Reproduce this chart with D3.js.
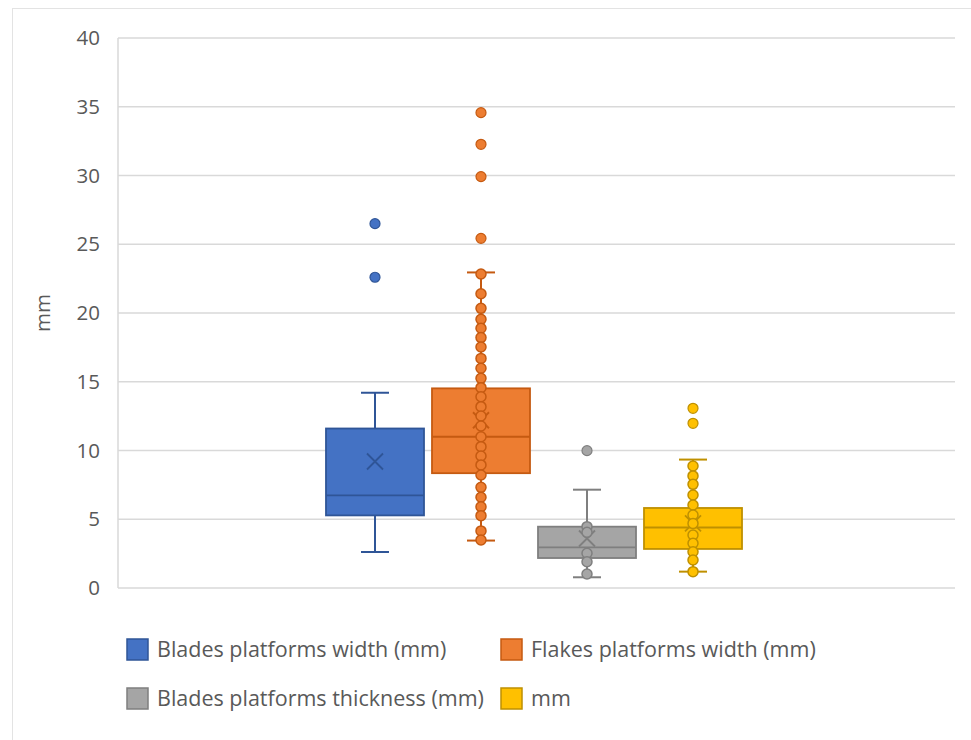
<!DOCTYPE html>
<html>
<head>
<meta charset="utf-8">
<script src="https://cdn.jsdelivr.net/npm/d3@7"></script>
<style>
  html, body { margin: 0; padding: 0; background: #fff; }
  svg { display: block; font-family: "Open Sans", "Noto Sans", sans-serif; }
</style>
</head>
<body>
<svg id="chart" width="971" height="740"></svg>
<script>
// ---- data ----
const seriesNames = [
  "Blades platforms width (mm)",
  "Flakes platforms width (mm)",
  "Blades platforms thickness (mm)",
  "mm"
];
const whiskerLow  = [2.62, 3.45, 0.78, 1.19];
const q1          = [5.28, 8.35, 2.18, 2.84];
const median      = [6.74, 11.0, 2.95, 4.40];
const q3          = [11.6, 14.52, 4.46, 5.82];
const whiskerHigh = [14.2, 22.95, 7.15, 9.34];
const means       = [9.2, 12.2, 3.6, 4.7];
const outliers = [
  [26.5, 22.6],
  [34.57, 32.27, 29.92, 25.43],
  [9.99],
  [13.07, 11.98]
];
const innerPoints = [
  [],
  [22.84, 21.4, 20.34, 19.54, 18.89, 18.21, 17.53, 16.7, 15.98, 15.25, 14.57, 13.91,
   13.19, 12.51, 11.78, 11.0, 10.28, 9.6, 8.95, 8.22, 7.32, 6.6, 5.91, 5.26, 4.15, 3.49],
  [4.46, 4.05, 2.52, 1.91, 1.02],
  [8.87, 8.15, 7.54, 6.76, 6.04, 5.31, 4.7, 3.85, 3.25, 2.64, 2.04, 1.19]
];
const yTicks = [0, 5, 10, 15, 20, 25, 30, 35, 40];
const yTitle = "mm";

// ---- styles ----
const fills   = ["#4472C4", "#ED7D31", "#A5A5A5", "#FFC000"];
const strokes = ["#2F5597", "#C55A11", "#7F7F7F", "#BF9000"];

const svg = d3.select("#chart");
const plot = { left: 118, right: 955, top: 38, bottom: 588 };

// outer frame
svg.append("rect").attr("x", 12.5).attr("y", 8.5).attr("width", 990).attr("height", 800)
  .attr("fill", "#fff").attr("stroke", "#E3E3E3").attr("stroke-width", 1);

const y = d3.scaleLinear().domain([0, 40]).range([plot.bottom, plot.top]);
const x = d3.scaleBand().domain(seriesNames).range([322, 746])
  .paddingInner(0.0755).paddingOuter(0.0377);

// gridlines
svg.append("g").selectAll("line").data(yTicks).join("line")
  .attr("x1", plot.left).attr("x2", plot.right)
  .attr("y1", d => y(d)).attr("y2", d => y(d))
  .attr("stroke", "#D9D9D9").attr("stroke-width", 1.5);

// left axis line
svg.append("line").attr("x1", plot.left).attr("x2", plot.left)
  .attr("y1", plot.top).attr("y2", plot.bottom)
  .attr("stroke", "#D9D9D9").attr("stroke-width", 1.5);

// y axis
const yAxis = d3.axisLeft(y).tickValues(yTicks).tickSize(0).tickPadding(18);
const gy = svg.append("g").attr("transform", `translate(${plot.left},0)`).call(yAxis);
gy.select(".domain").remove();
gy.selectAll("text").attr("fill", "#595959").attr("font-size", 20.5)
  .attr("font-family", "'Open Sans', sans-serif");

// y title
svg.append("text").attr("transform", `translate(50,${(plot.top + plot.bottom) / 2}) rotate(-90)`)
  .attr("text-anchor", "middle").attr("fill", "#595959").attr("font-size", 20.5)
  .text(yTitle);

// boxes
const capW = 28;
seriesNames.forEach((name, i) => {
  const g = svg.append("g");
  const x0 = x(name), bw = x.bandwidth(), cx = x0 + bw / 2;
  const st = strokes[i], fl = fills[i];
  // whiskers
  g.append("line").attr("x1", cx).attr("x2", cx).attr("y1", y(q3[i])).attr("y2", y(whiskerHigh[i]))
    .attr("stroke", st).attr("stroke-width", 2);
  g.append("line").attr("x1", cx).attr("x2", cx).attr("y1", y(q1[i])).attr("y2", y(whiskerLow[i]))
    .attr("stroke", st).attr("stroke-width", 2);
  [whiskerHigh[i], whiskerLow[i]].forEach(v => {
    g.append("line").attr("x1", cx - capW / 2).attr("x2", cx + capW / 2)
      .attr("y1", y(v)).attr("y2", y(v)).attr("stroke", st).attr("stroke-width", 2);
  });
  // box
  g.append("rect").attr("x", x0).attr("width", bw)
    .attr("y", y(q3[i])).attr("height", y(q1[i]) - y(q3[i]))
    .attr("fill", fl).attr("stroke", st).attr("stroke-width", 1.8);
  // median
  g.append("line").attr("x1", x0).attr("x2", x0 + bw).attr("y1", y(median[i])).attr("y2", y(median[i]))
    .attr("stroke", st).attr("stroke-width", 1.8);
  // mean X
  const m = 8, my = y(means[i]);
  g.append("path").attr("d", `M${cx - m},${my - m}L${cx + m},${my + m}M${cx - m},${my + m}L${cx + m},${my - m}`)
    .attr("stroke", st).attr("stroke-width", 1.8).attr("fill", "none");
  // inner points
  g.selectAll("circle.inner").data(innerPoints[i]).join("circle").attr("class", "inner")
    .attr("cx", cx).attr("cy", d => y(d)).attr("r", 5)
    .attr("fill", fl).attr("stroke", st).attr("stroke-width", 1.5);
  // outliers
  g.selectAll("circle.out").data(outliers[i]).join("circle").attr("class", "out")
    .attr("cx", cx).attr("cy", d => y(d)).attr("r", 5)
    .attr("fill", fl).attr("stroke", st).attr("stroke-width", 1.2);
});

// legend
const legendPos = [[126, 649], [500, 649], [126, 698], [500, 698]];
const lg = svg.append("g");
seriesNames.forEach((name, i) => {
  const [lx, ly] = legendPos[i];
  lg.append("rect").attr("x", lx + 1).attr("y", ly - 10).attr("width", 21).attr("height", 21)
    .attr("fill", fills[i]).attr("stroke", strokes[i]).attr("stroke-width", 1.5);
  lg.append("text").attr("x", lx + 31).attr("y", ly).attr("dy", "0.35em")
    .attr("fill", "#595959").attr("font-size", 21.5).text(name);
});
</script>
</body>
</html>
